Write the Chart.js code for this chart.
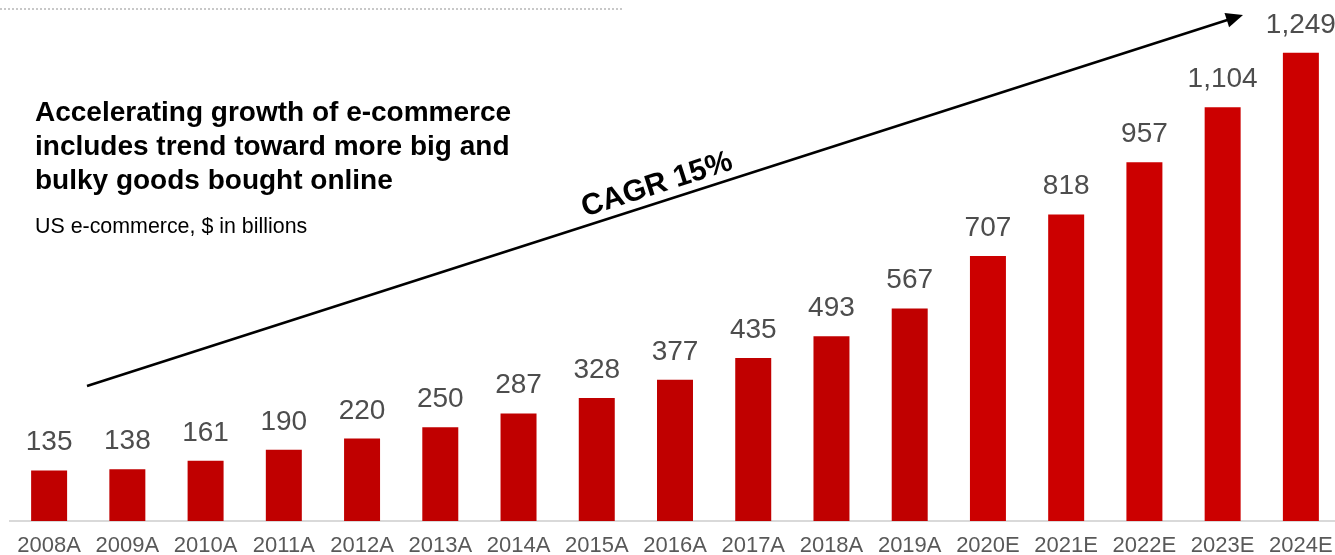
<!DOCTYPE html>
<html>
<head>
<meta charset="utf-8">
<script src="https://cdn.jsdelivr.net/npm/chart.js@4"></script>
<style>
    html, body { margin: 0; padding: 0; background: #fff; overflow: hidden; }
    #wrap { position: relative; width: 1345px; height: 555px; }
    #title {
        position: absolute; left: 35px; top: 95px;
        font: bold 28px "Liberation Sans", Arial, sans-serif;
        line-height: 34px; color: #000;
    }
    #subtitle {
        position: absolute; left: 35px; top: 214px;
        font: 21.4px "Liberation Sans", Arial, sans-serif;
        line-height: 24px; color: #000;
    }
</style>
</head>
<body>
<div id="wrap">
    <canvas id="barChart" width="1345" height="555"></canvas>
    <div id="title">Accelerating growth of e-commerce<br>includes trend toward more big and<br>bulky goods bought online</div>
    <div id="subtitle">US e-commerce, $ in billions</div>
</div>
<script>
const years = ['2008A', '2009A', '2010A', '2011A', '2012A', '2013A', '2014A', '2015A', '2016A',
    '2017A', '2018A', '2019A', '2020E', '2021E', '2022E', '2023E', '2024E'];
const sales = [135, 138, 161, 190, 220, 250, 287, 328, 377, 435, 493, 567, 707, 818, 957, 1104, 1249];
const cagrText = 'CAGR 15%';

const actualColor = '#c00000';
const estimateColor = '#cc0000';

// value labels over every bar
const valueLabels = {
    id: 'valueLabels',
    afterDatasetsDraw(chart) {
        const ctx = chart.ctx;
        const meta = chart.getDatasetMeta(0);
        ctx.save();
        ctx.font = '28px "Liberation Sans", Arial, sans-serif';
        ctx.fillStyle = '#4d4d4d';
        ctx.textAlign = 'center';
        ctx.textBaseline = 'alphabetic';
        meta.data.forEach((bar, i) => {
            ctx.fillText(sales[i].toLocaleString('en-US'), bar.x, bar.y - 20);
        });
        ctx.restore();
    }
};

// dotted rule at the top, trend arrow and CAGR text
const decorations = {
    id: 'decorations',
    afterDraw(chart) {
        const ctx = chart.ctx;
        ctx.save();

        ctx.strokeStyle = '#c8c8c8';
        ctx.lineWidth = 2;
        ctx.setLineDash([2, 2]);
        ctx.beginPath();
        ctx.moveTo(0, 9);
        ctx.lineTo(623, 9);
        ctx.stroke();
        ctx.setLineDash([]);

        const x1 = 87, y1 = 386, x2 = 1243, y2 = 15;
        const angle = Math.atan2(y2 - y1, x2 - x1);
        ctx.strokeStyle = '#000';
        ctx.fillStyle = '#000';
        ctx.lineWidth = 2.5;
        ctx.beginPath();
        ctx.moveTo(x1, y1);
        ctx.lineTo(x2 - 14 * Math.cos(angle), y2 - 14 * Math.sin(angle));
        ctx.stroke();

        ctx.translate(x2, y2);
        ctx.rotate(angle);
        ctx.beginPath();
        ctx.moveTo(0, 0);
        ctx.lineTo(-17, -7.5);
        ctx.lineTo(-17, 7.5);
        ctx.closePath();
        ctx.fill();
        ctx.setTransform(1, 0, 0, 1, 0, 0);

        ctx.translate(657, 185);
        ctx.rotate(angle);
        ctx.font = 'bold 30px "Liberation Sans", Arial, sans-serif';
        ctx.textAlign = 'center';
        ctx.textBaseline = 'middle';
        ctx.fillText(cagrText, 0, 0);

        ctx.restore();
    }
};

new Chart(document.getElementById('barChart').getContext('2d'), {
    type: 'bar',
    data: {
        labels: years,
        datasets: [{
            data: sales,
            backgroundColor: years.map(y => y.endsWith('E') ? estimateColor : actualColor),
            barPercentage: 0.46,
            categoryPercentage: 1
        }]
    },
    options: {
        responsive: false,
        animation: false,
        layout: { padding: { left: 10, right: 5, top: 0, bottom: 0 } },
        plugins: {
            legend: { display: false },
            tooltip: { enabled: false }
        },
        scales: {
            x: {
                grid: { display: false, drawTicks: false },
                border: { display: true, color: '#d9d9d9', width: 2 },
                ticks: {
                    color: '#595959',
                    padding: 12,
                    maxRotation: 0,
                    autoSkip: false,
                    font: { family: '"Liberation Sans", Arial, sans-serif', size: 22 }
                },
                afterFit(scale) { scale.height = 34; }
            },
            y: {
                display: false,
                min: 0,
                max: 1390
            }
        }
    },
    plugins: [valueLabels, decorations]
});
</script>
</body>
</html>
